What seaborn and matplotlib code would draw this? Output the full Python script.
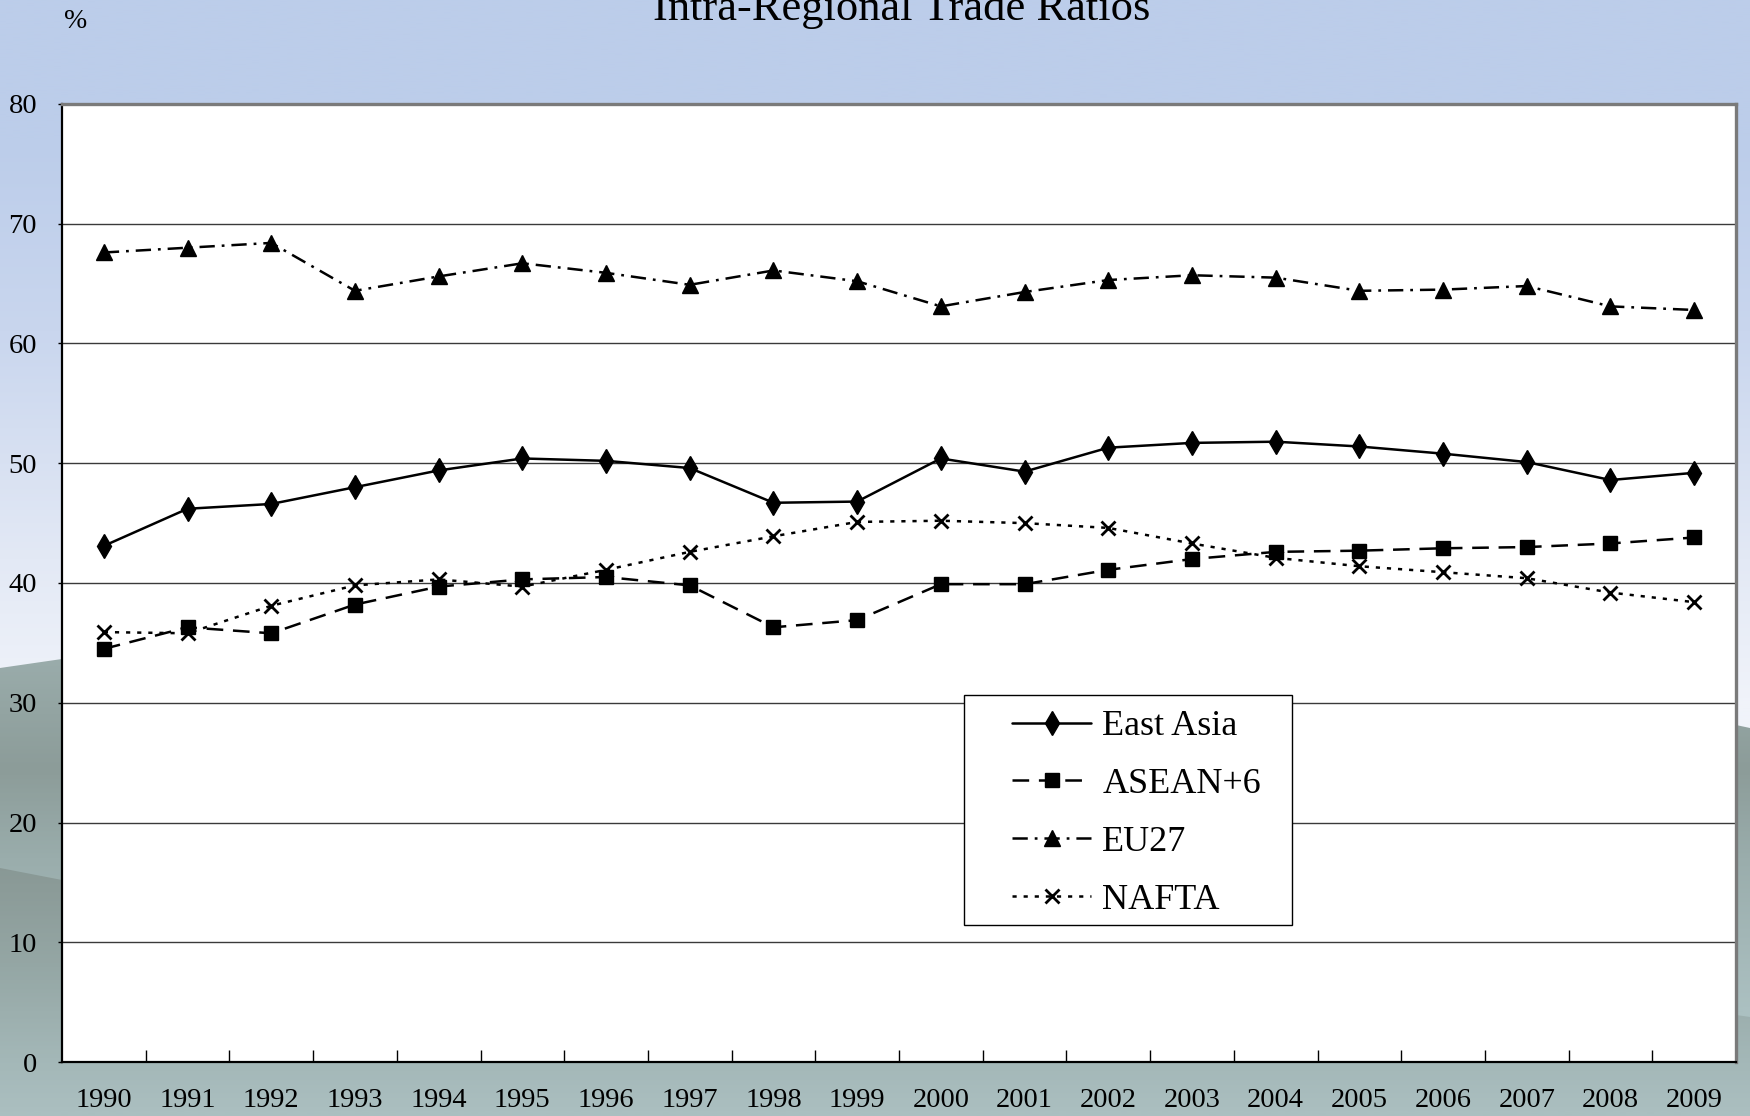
import numpy as np
import pandas as pd
import matplotlib
matplotlib.use("Agg")
import matplotlib.pyplot as plt
import seaborn as sns
from matplotlib.colors import LinearSegmentedColormap
from matplotlib.patches import Polygon, Rectangle

years = [str(y) for y in range(1990, 2010)]
east_asia = [43.1, 46.2, 46.6, 48.0, 49.4, 50.4, 50.2, 49.6, 46.7, 46.8,
             50.4, 49.3, 51.3, 51.7, 51.8, 51.4, 50.8, 50.1, 48.6, 49.2]
asean6 = [34.5, 36.3, 35.8, 38.2, 39.7, 40.3, 40.5, 39.8, 36.3, 36.9,
          39.9, 39.9, 41.1, 42.0, 42.6, 42.7, 42.9, 43.0, 43.3, 43.8]
eu27 = [67.6, 68.0, 68.4, 64.4, 65.6, 66.7, 65.9, 64.9, 66.1, 65.2,
        63.1, 64.3, 65.3, 65.7, 65.5, 64.4, 64.5, 64.8, 63.1, 62.8]
nafta = [35.9, 35.8, 38.1, 39.8, 40.3, 39.7, 41.1, 42.6, 43.9, 45.1,
         45.2, 45.0, 44.6, 43.3, 42.1, 41.4, 40.9, 40.4, 39.2, 38.4]
series_names = ["East Asia", "ASEAN+6", "EU27", "NAFTA"]
y_ticks = [0, 10, 20, 30, 40, 50, 60, 70, 80]

df = pd.DataFrame({"pos": np.arange(len(years)), "year": years,
                   "East Asia": east_asia, "ASEAN+6": asean6,
                   "EU27": eu27, "NAFTA": nafta})

sns.set_theme(style="white")
plt.rcParams["font.family"] = ["Liberation Serif", "DejaVu Serif"]
plt.rcParams["lines.scale_dashes"] = False

W, H = 1750, 1116
fig = plt.figure(figsize=(17.5, 11.16), dpi=100)

# ---- background ----
bg = fig.add_axes([0, 0, 1, 1], zorder=-10)
bg.set_xlim(0, W)
bg.set_ylim(H, 0)
bg.axis("off")


def vgrad(stops, clip=None, z=0):
    cmap = LinearSegmentedColormap.from_list("g", [(p / H, c) for p, c in stops])
    arr = np.linspace(0, 1, 600).reshape(-1, 1)
    im = bg.imshow(arr, cmap=cmap, extent=[0, W, H, 0], aspect="auto",
                   vmin=0, vmax=1, zorder=z, interpolation="bilinear")
    if clip is not None:
        poly = Polygon(clip, closed=True, transform=bg.transData,
                       facecolor="none", edgecolor="none")
        bg.add_patch(poly)
        im.set_clip_path(poly)
    return im


vgrad([(0, "#bccdea"), (140, "#bccdea"), (330, "#c9d6ee"),
       (560, "#e3e9f5"), (700, "#f0f3fa"), (H, "#f0f3fa")], z=0)
vgrad([(0, "#9aacab"), (660, "#9aacab"), (770, "#8c9c99"),
       (860, "#9aadac"), (1010, "#abc0c1"), (H, "#abc0c1")],
      clip=[(0, 668), (62, 659), (900, 690), (1736, 725), (1750, 728),
            (1750, H), (0, H)], z=1)
vgrad([(0, "#899895"), (868, "#899895"), (970, "#95a7a5"),
       (1060, "#a3b7b7"), (H, "#abbfc0")],
      clip=[(0, 868), (62, 880), (1736, 1015), (1750, 1017),
            (1750, H), (0, H)], z=2)

# ---- main axes ----
L, R, T, B = 62, 1736, 104, 1062
ax = fig.add_axes([L / W, 1 - B / H, (R - L) / W, (B - T) / H])
ax.set_facecolor("white")

styles = {
    "East Asia": dict(marker="d", markersize=12, linestyle="-"),
    "ASEAN+6": dict(marker="s", markersize=10, linestyle=(0, (12, 7))),
    "EU27": dict(marker="^", markersize=11, linestyle=(0, (11, 5, 2, 5))),
    "NAFTA": dict(marker="x", markersize=10, linestyle=(0, (3, 5))),
}

for name in series_names:
    st = styles[name]
    sns.lineplot(data=df, x="pos", y=name, ax=ax, color="black",
                 linewidth=1.8, marker=st["marker"], markersize=st["markersize"],
                 markeredgecolor="black", markerfacecolor="black",
                 markeredgewidth=2 if st["marker"] == "x" else 1,
                 errorbar=None, label=name, legend=False)
    ln = ax.get_lines()[-1]
    ln.set_linestyle(st["linestyle"])
    ln.set_zorder(3)

ax.set_xlim(-0.5, len(years) - 0.5)
ax.set_ylim(0, 80)
ax.set_xlabel("")
ax.set_ylabel("")

ax.set_yticks(y_ticks)
ax.set_yticklabels([str(v) for v in y_ticks])
ax.yaxis.grid(True, color="#3a3a3a", linewidth=1.0)
ax.xaxis.grid(False)
ax.set_axisbelow(True)

ax.set_xticks(df["pos"])
ax.set_xticklabels(years)
ax.set_xticks(np.arange(0.5, len(years) - 1, 1.0), minor=True)
ax.tick_params(axis="x", which="major", length=0, pad=19, labelsize=20.5,
               labelcolor="black")
ax.tick_params(axis="x", which="minor", direction="in", length=9, width=1,
               color="black", bottom=True)
ax.tick_params(axis="y", which="major", direction="out", length=3, width=1,
               color="black", left=True, pad=15, labelsize=20.5,
               labelcolor="black")

for side in ["left", "bottom"]:
    ax.spines[side].set_color("black")
    ax.spines[side].set_linewidth(1.6)
for side in ["top", "right"]:
    ax.spines[side].set_color("#7a7a7a")
    ax.spines[side].set_linewidth(2.4)

# legend box + legend
ax.add_patch(Rectangle((964 / W, 1 - 925 / H), 328 / W, 230 / H,
                       transform=fig.transFigure, facecolor="white",
                       edgecolor="black", linewidth=1.0, zorder=4,
                       clip_on=False))
leg = ax.legend(loc="upper left", bbox_to_anchor=(1012 / W, 1 - 710 / H),
                bbox_transform=fig.transFigure, frameon=False, fontsize=26,
                handlelength=2.2, handletextpad=0.3, labelspacing=0.68,
                borderpad=0, borderaxespad=0, numpoints=1)
leg.set_zorder(5)
for t in leg.get_texts():
    t.set_color("black")

# titles
fig.text(902 / W, 1 - 20 / H, "Intra-Regional Trade Ratios", ha="center",
         va="baseline", fontsize=32, color="black")
fig.text(76 / W, 1 - 28 / H, "%", ha="center", va="baseline", fontsize=20,
         color="black")

fig.savefig("out.png", dpi=100)
